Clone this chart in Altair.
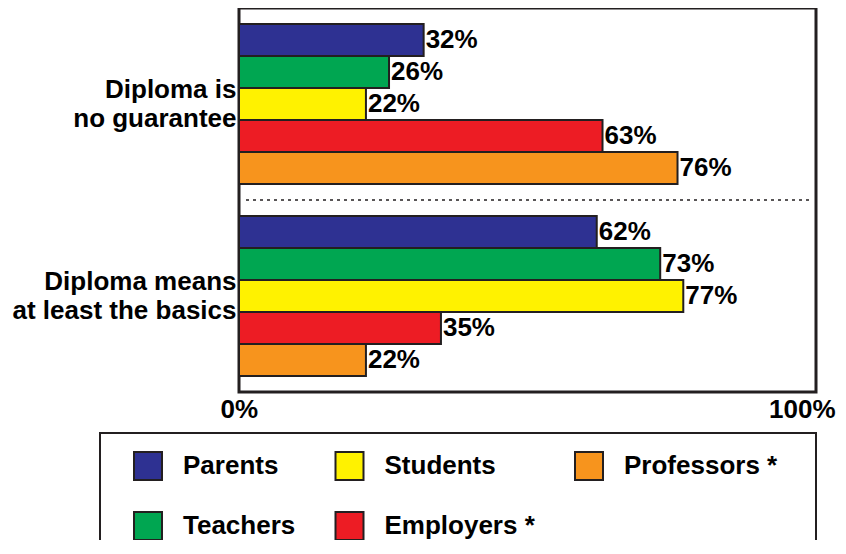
import altair as alt
import pandas as pd

# ---- data ----
groups = ["Diploma is|no guarantee", "Diploma means|at least the basics"]
series = ["Parents", "Teachers", "Students", "Employers *", "Professors *"]
colors = ["#2e3192", "#00a651", "#fff200", "#ed1c24", "#f7941d"]
no_guarantee = [32, 26, 22, 63, 76]
at_least_basics = [62, 73, 77, 35, 22]
x_ticks = [0, 100]

rows = []
for g, vals in zip(groups, [no_guarantee, at_least_basics]):
    for s, v in zip(series, vals):
        rows.append({"group": g, "series": s, "value": v, "label": f"{v}%"})
df = pd.DataFrame(rows)

INK = "#231f20"

y_enc = alt.Y(
    "group:N",
    sort=groups,
    scale=alt.Scale(paddingInner=1 / 6, paddingOuter=1 / 12),
    axis=alt.Axis(
        title=None, domain=False, ticks=False, grid=False,
        labelExpr="split(datum.label, '|')",
        labelFontSize=26, labelFontWeight="bold", labelColor="black",
        labelLineHeight=29, labelPadding=3, labelLimit=400, labelAlign="right",
        labelOffset=-14.5,
    ),
)
yoff_enc = alt.YOffset("series:N", sort=series,
                       scale=alt.Scale(paddingInner=0, paddingOuter=0))
x_enc = alt.X(
    "value:Q",
    scale=alt.Scale(domain=[0, 100]),
    axis=alt.Axis(
        values=x_ticks, labelExpr="datum.value + '%'", title=None,
        grid=False, ticks=False, domain=False, labelFlush=True,
        labelFlushOffset=19, labelOverlap=False, labelFontSize=26,
        labelFontWeight="bold", labelColor="black", labelPadding=4,
    ),
)

base = alt.Chart(df)

bars = base.mark_bar(stroke=INK, strokeWidth=2).encode(
    x=x_enc,
    y=y_enc,
    yOffset=yoff_enc,
    color=alt.Color(
        "series:N",
        scale=alt.Scale(domain=series, range=colors),
        legend=alt.Legend(
            title=None, orient="none", legendX=-106, legendY=443,
            columns=3, gridAlign="each", symbolType="square", symbolSize=784,
            symbolStrokeColor=INK, symbolStrokeWidth=2, symbolOpacity=1,
            labelFontSize=26, labelFontWeight="bold", labelColor="black",
            labelOffset=20, columnPadding=35.5, rowPadding=24, padding=0,
            labelLimit=400,
        ),
    ),
)

text = base.mark_text(
    align="left", baseline="middle", dx=2, fontSize=26, fontWeight="bold",
    color="black",
).encode(x="value:Q", y=y_enc, yOffset=yoff_enc, text="label:N")

one = pd.DataFrame({"k": [0]})
divider = alt.Chart(one).mark_rule(strokeDash=[3, 4], color=INK, strokeWidth=1.4).encode(
    x=alt.value(7), x2=alt.value(571), y=alt.value(192)
)
legend_frame = alt.Chart(one).mark_rect(fill="white", fillOpacity=0, stroke=INK, strokeWidth=2).encode(
    x=alt.value(-139), x2=alt.value(577), y=alt.value(425), y2=alt.value(620)
)

chart = (
    alt.layer(bars, text, divider, legend_frame)
    .properties(
        width=577, height=384,
        autosize=alt.AutoSizeParams(type="none"),
        padding={"left": 231, "top": 0, "right": 22, "bottom": 148},
    )
    .configure(font="Liberation Sans")
    .configure_view(stroke=INK, strokeWidth=3)
)

chart.save("out.html", embed_options={"renderer": "svg", "actions": False})
